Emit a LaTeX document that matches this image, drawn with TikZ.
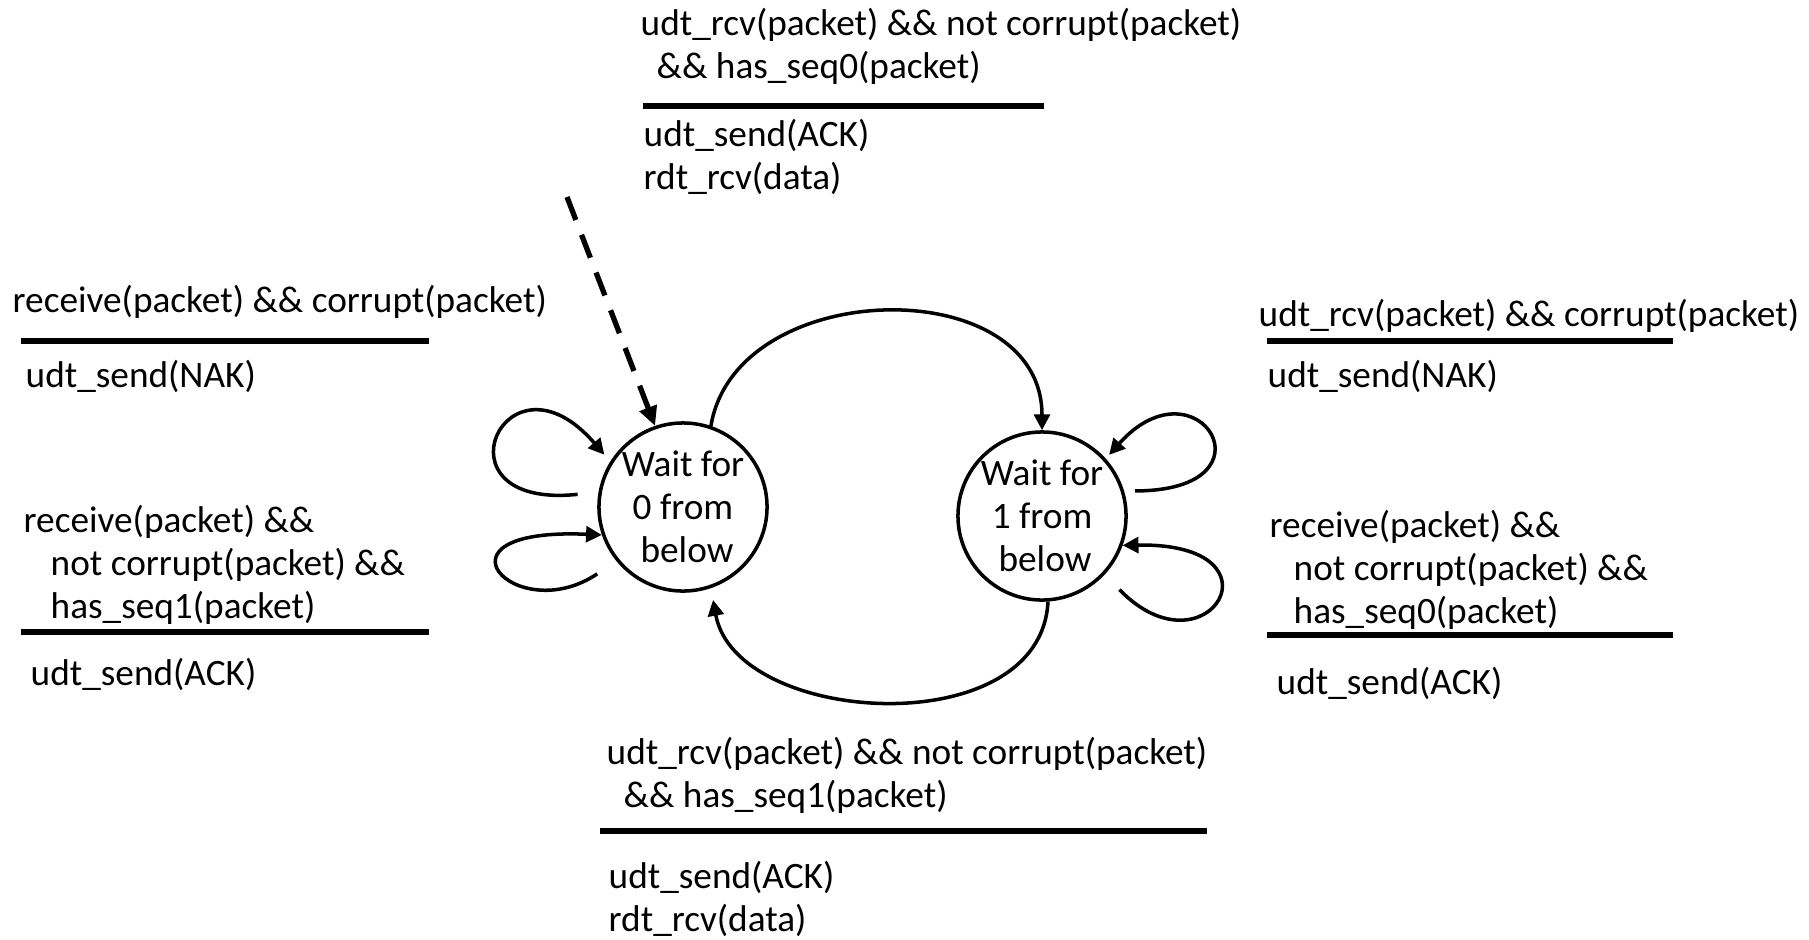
\documentclass[tikz,border=0pt]{standalone}
\usepackage{fontspec}
\setmainfont{Carlito}
\usetikzlibrary{shapes,arrows.meta,positioning,calc}

\begin{document}
\begin{tikzpicture}[x=0.01cm, y=-0.01cm, every node/.style={font=\fontsize{10.6}{12.2}\selectfont},
		state/.style={circle, draw, line width=1pt, minimum size=1.68cm, inner sep=-1pt, align=center},
		guard/.style={anchor=north west, inner sep=0pt, align=left},
		bar/.style={line width=1.5pt},
		trans/.style={line width=1pt, -{Triangle[length=4.5pt,width=4.5pt]}}]
				\useasboundingbox (0,0) rectangle (1809,939);

				\node[state] (s0) at (683,507) {Wait for\\0 from\\\hspace*{0.08cm}below};
				\node[state] (s1) at (1042,516) {Wait for\\1 from\\\hspace*{0.06cm}below};
				\coordinate (init) at (567,197);

				% eventi / azioni
				\node[guard] (g01) at (640,8) {udt\_rcv(packet) \&\& not corrupt(packet)\\\hspace*{0.16cm}\&\& has\_seq0(packet)};
				\node[guard] (a01) at (643,119) {udt\_send(ACK)\\rdt\_rcv(data)};
				\node[guard] (g00a) at (12,285) {receive(packet) \&\& corrupt(packet)};
				\node[guard] (a00a) at (25,360) {udt\_send(NAK)};
				\node[guard] (g00b) at (23,505) {receive(packet) \&\&\\\hspace*{0.27cm}not corrupt(packet) \&\&\\\hspace*{0.27cm}has\_seq1(packet)};
				\node[guard] (a00b) at (30,658) {udt\_send(ACK)};
				\node[guard] (g11a) at (1258,299) {udt\_rcv(packet) \&\& corrupt(packet)};
				\node[guard] (a11a) at (1267,360) {udt\_send(NAK)};
				\node[guard] (g11b) at (1269,510) {receive(packet) \&\&\\\hspace*{0.24cm}not corrupt(packet) \&\&\\\hspace*{0.24cm}has\_seq0(packet)};
				\node[guard] (a11b) at (1276,667) {udt\_send(ACK)};
				\node[guard] (g10) at (606,737) {udt\_rcv(packet) \&\& not corrupt(packet)\\\hspace*{0.17cm}\&\& has\_seq1(packet)};
				\node[guard] (a10) at (608,861) {udt\_send(ACK)\\rdt\_rcv(data)};

				\draw[bar] (643,106) -- (1044,106);
				\draw[bar] (21,341) -- (429,341);
				\draw[bar] (21,632) -- (429,632);
				\draw[bar] (1267,341) -- (1673,341);
				\draw[bar] (1267,635) -- (1673,635);
				\draw[bar] (600,831) -- (1207,831);

				\draw[line width=1.5pt, dash pattern=on 7pt off 4.5pt, -{Triangle[length=5.5pt,width=5pt]}] (init) -- (s0.109);
				\draw[trans] (s0.71) .. controls +(25,-150) and +(0,-160) .. (s1.north);
				\draw[trans, shorten >=0.12cm] (s1.-86) .. controls +(-7,143) and +(25,138) .. (s0.-71);
				\draw[trans, shorten <=0.21cm, shorten >=0.09cm] (s0.170) .. controls +(-170,18) and +(-105,-122) .. (s0.148);
				\draw[trans, shorten <=0.23cm] (s0.219) .. controls +(-101,68) and +(-181,-8) .. (s0.199);
				\draw[trans, shorten <=0.11cm, shorten >=0.05cm] (s1.17) .. controls +(157,0) and +(92,-103) .. (s1.42);
				\draw[trans, shorten <=0.21cm] (s1.-43) .. controls +(102,105) and +(168,-3) .. (s1.-20);
			\end{tikzpicture}
\end{document}
